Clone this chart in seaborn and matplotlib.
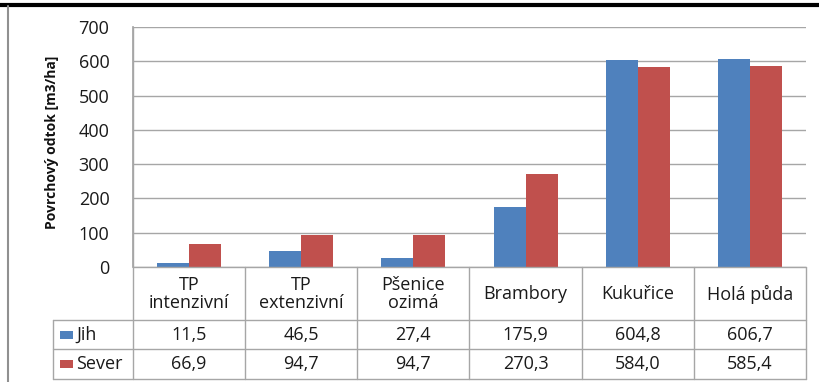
import pandas as pd
import matplotlib.pyplot as plt
import seaborn as sns
from matplotlib import font_manager
from matplotlib.transforms import blended_transform_factory
from matplotlib.patches import Rectangle

# data ------------------------------------------------
categories = ["TP\nintenzivní", "TP\nextenzivní", "Pšenice\nozimá",
              "Brambory", "Kukuřice", "Holá půda"]
jih = [11.5, 46.5, 27.4, 175.9, 604.8, 606.7]
sever = [66.9, 94.7, 94.7, 270.3, 584.0, 585.4]
series = ["Jih", "Sever"]
colors = ["#4F81BD", "#C0504D"]
yticks = [0, 100, 200, 300, 400, 500, 600, 700]
ylabel = "Povrchový odtok [m3/ha]"

df = pd.DataFrame({
    "cat": categories * 2,
    "serie": ["Jih"] * len(jih) + ["Sever"] * len(sever),
    "val": jih + sever,
})

# layout (pixels) --------------------------------------
W, H = 820, 382
x0, x1 = 133, 806          # plot / table columns
y_top, y_zero = 27, 267    # 700 and 0
row_y = [267, 320, 349, 379]
leg_x = 53
grid_c = "#A6A6A6"
txt_c = "#1a1a1a"
fs = 13
fy = lambda py: 1 - py / H
fx = lambda px: px / W

sns.set_theme(style="white")
plt.rcParams["font.family"] = ["Open Sans", "DejaVu Sans"]

# narrow font for the y label if there is one
try:
    font_manager.findfont("Liberation Sans Narrow", fallback_to_default=False)
    lab_kw = dict(family=["Liberation Sans Narrow", "DejaVu Sans"], fontsize=12.5)
except ValueError:
    lab_kw = dict(family=["Open Sans", "DejaVu Sans"], fontsize=10)

fig = plt.figure(figsize=(W / 100, H / 100), dpi=100)
fig.patch.set_facecolor("white")
ax = fig.add_axes([fx(x0), fy(y_zero), fx(x1) - fx(x0), fy(y_top) - fy(y_zero)])

sns.barplot(data=df, x="cat", y="val", hue="serie", palette=colors,
            width=0.57, gap=0, ax=ax, legend=False, edgecolor="none",
            saturation=1)
ax.set_xlim(-0.5, len(categories) - 0.5)
ax.set_ylim(0, 700)
ax.set_yticks(yticks)
ax.set_yticklabels([str(t) for t in yticks], fontsize=fs, color=txt_c)
ax.tick_params(axis="y", length=0, pad=17)
ax.set_xticks([])
ax.set_xlabel("")
ax.set_ylabel("")
ax.yaxis.grid(True, color=grid_c, lw=1)
ax.set_axisbelow(True)
for s in ["top", "right", "bottom"]:
    ax.spines[s].set_visible(False)
ax.spines["left"].set_color(grid_c)

fig.text(fx(52), fy(142), ylabel, rotation=90, ha="center", va="center",
         fontweight="bold", color="#111111", **lab_kw)

# table -------------------------------------------------
tr = blended_transform_factory(ax.transData, fig.transFigure)
lkw = dict(color=grid_c, lw=1, clip_on=False)
# horizontal lines
ax.plot([-0.5, 5.5], [fy(row_y[0])] * 2, transform=tr, **lkw)
for ry in row_y[1:]:
    fig.add_artist(plt.Line2D([fx(leg_x), fx(x1)], [fy(ry)] * 2, **lkw))
# vertical lines
fig.add_artist(plt.Line2D([fx(x0)] * 2, [fy(y_top), fy(row_y[-1])], **lkw))
fig.add_artist(plt.Line2D([fx(leg_x)] * 2, [fy(row_y[1]), fy(row_y[-1])], **lkw))
for i in range(len(categories)):
    ax.plot([i + 0.5] * 2, [fy(row_y[0]), fy(row_y[-1])], transform=tr, **lkw)

for i, c in enumerate(categories):
    ax.text(i, fy(294), c, transform=tr, ha="center", va="center",
            fontsize=fs, color=txt_c, linespacing=1.05)
    for r, vals in enumerate([jih, sever]):
        yc = (row_y[r + 1] + row_y[r + 2]) / 2
        ax.text(i, fy(yc), f"{vals[i]:.1f}".replace(".", ","), transform=tr,
                ha="center", va="center", fontsize=fs, color=txt_c)

for r, (name, col) in enumerate(zip(series, colors)):
    yc = (row_y[r + 1] + row_y[r + 2]) / 2
    fig.add_artist(Rectangle((fx(60), fy(yc + 4)), fx(13), 8 / H,
                             facecolor=col, edgecolor="none"))
    fig.text(fx(76), fy(yc), name, ha="left", va="center",
             fontsize=fs, color=txt_c)

# outer frame
fig.add_artist(plt.Line2D([0, 1], [fy(5)] * 2, color="black", lw=3))
fig.add_artist(plt.Line2D([fx(8)] * 2, [fy(6), 0], color="#909090", lw=1.5))

fig.savefig("out.png", dpi=100)
